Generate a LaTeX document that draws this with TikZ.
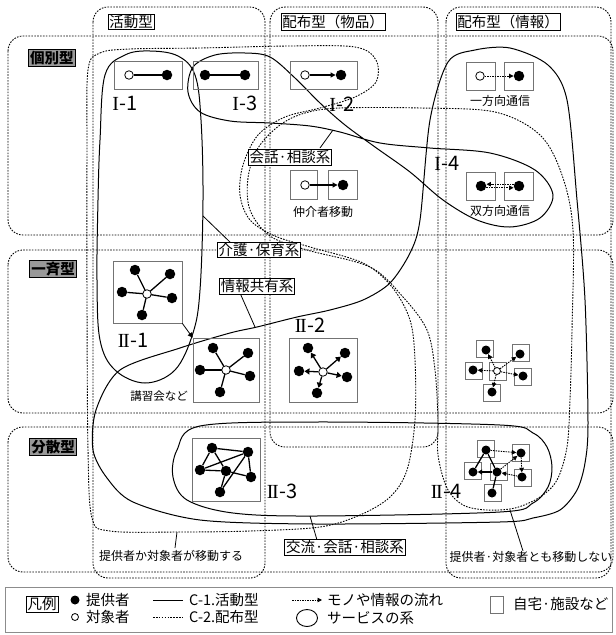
\documentclass[tikz,border=0pt]{standalone}
\usepackage{fontspec}
\setmainfont{Noto Sans CJK JP}
\newfontfamily\serifrn{Liberation Serif}
\newcommand{\rnI}{{\serifrn I}\kern0.5pt}
\newcommand{\rnII}{{\serifrn I\kern-1.4pt I}\kern0.5pt}
\usetikzlibrary{arrows.meta,shapes.geometric}
\tikzset{
  dotl/.style={line width=0.9pt, dash pattern=on 1.6pt off 1.3pt},
  frame/.style={dotl, rounded corners=15pt},
  sys/.style={line width=1pt},
  house/.style={draw=black!55, line width=0.5pt, inner sep=0pt},
  sq/.style={house, minimum width=17pt, minimum height=17pt},
  prov/.style={circle, fill=black, inner sep=0pt, minimum size=10.5pt},
  provs/.style={circle, fill=black, inner sep=0pt, minimum size=9pt},
  tgt/.style={circle, draw, fill=white, line width=0.8pt, inner sep=0pt, minimum size=8.5pt},
  tgts/.style={circle, draw, fill=white, line width=0.8pt, inner sep=0pt, minimum size=7pt},
  tag/.style={draw, line width=0.9pt, fill=white, inner sep=1.2pt, font=\fontsize{14.5}{15}\selectfont},
  rowtag/.style={draw, line width=0.6pt, fill=black!40, inner sep=1.5pt, font=\fontsize{14.5}{15}\selectfont\bfseries},
  roman/.style={font=\fontsize{20}{20}\selectfont, inner sep=0pt},
  small/.style={font=\fontsize{12}{12}\selectfont, inner sep=0pt},
  leg/.style={font=\fontsize{14.5}{15}\selectfont, inner sep=0pt, anchor=west},
  tip/.style={-{Triangle[length=5pt,width=5pt]}},
  edge/.style={line width=1.3pt},
  dotarrow/.style={line width=0.9pt, dash pattern=on 1.5pt off 1pt, -{Triangle[length=4.5pt,width=4.5pt]}},
}
\begin{document}
\begin{tikzpicture}[x=1pt,y=-1pt]
\useasboundingbox (0,0) rectangle (616,635);
% rows
\draw[frame] (8,36) rectangle (613,235);
\draw[frame] (8,250) rectangle (613,413);
\draw[frame] (8,427) rectangle (613,572);
% columns
\draw[frame] (93,7) rectangle (265,578);
\draw[frame] (270,7) rectangle (438,447);
\draw[frame] (446,7) rectangle (611,578);

% dotted service systems
\draw[dotl] plot[smooth cycle, tension=0.55] coordinates {
 (88,70) (100,53) (130,49) (200,48) (290,46) (355,47) (376,60) (376,82) (355,97)
 (320,108) (285,117) (258,135) (243,165) (240,195) (250,220) (275,236) (310,247)
 (363,263) (392,287) (410,320) (415,360) (415,420) (407,470) (390,497) (360,515)
 (320,527) (250,531) (180,532) (110,531) (92,518) (88,450) (87,300) (87,150)};
\draw[dotl] plot[smooth cycle, tension=0.55] coordinates {
 (340,108) (420,108) (495,112) (540,135) (562,175) (573,230) (572,330) (570,400)
 (567,447) (557,480) (540,497) (515,508) (487,510) (463,505) (447,488) (438,455)
 (438,420) (435,370) (427,330) (403,297) (370,267) (307,250) (270,236) (250,210)
 (248,178) (258,148) (280,125) (305,113)};

% solid service systems
\draw[sys] plot[smooth cycle, tension=0.6] coordinates {
 (100,140) (105,75) (125,55) (150,51) (178,56) (195,75) (201,120) (203,200)
 (200,290) (193,333) (175,370) (145,383) (115,370) (100,340) (97,280) (98,200)};
\draw[sys] plot[smooth cycle, tension=0.55] coordinates {
 (188,92) (193,67) (215,55) (245,53) (270,57) (295,78) (320,103) (345,125)
 (375,147) (410,172) (443,200) (477,220) (510,227) (540,218) (553,195) (535,170)
 (490,153) (430,148) (380,143) (340,132) (310,126) (270,123) (230,121) (200,112)};
\draw[sys] plot[smooth cycle, tension=0.5] coordinates {
 (420,220) (430,120) (448,62) (475,50) (510,48) (548,65) (567,100) (577,200)
 (585,300) (588,423) (585,463) (577,490) (560,510) (533,518) (500,522) (316,524)
 (200,520) (133,502) (107,478) (93,450) (96,410) (120,370) (180,348) (230,333)
 (257,327) (297,317) (330,310) (363,300) (390,283) (410,253)};
\draw[sys] plot[smooth cycle, tension=0.55] coordinates {
 (316,422) (500,425) (533,433) (547,447) (552,467) (548,487) (533,503) (500,512)
 (316,516) (233,513) (187,500) (173,477) (177,450) (200,426)};

% ---- 個別型 ----
\node[house, minimum width=68pt, minimum height=28pt] (h11) at (148,75) {};
\node[tgt] (a11) at (129,75) {};
\node[prov] (b11) at (167,75) {};
\draw[line width=1.1pt] (a11) -- (b11);
\node[roman] (l11) at (125,103) {\rnI-1};

\node[house, minimum width=65pt, minimum height=28pt] (h13) at (225.5,75) {};
\node[prov] (a13) at (205,75) {};
\node[prov] (b13) at (245,75) {};
\draw[line width=1.1pt] (a13) -- (b13);
\node[roman] (l13) at (245,103) {\rnI-3};

\node[house, minimum width=67pt, minimum height=28pt] (h12) at (323.5,75) {};
\node[tgt] (a12) at (305,75) {};
\node[prov] (b12) at (341,75) {};
\draw[line width=1.1pt, tip] (a12) -- (b12);
\node[roman] (l12) at (342,104) {\rnI-2};

\node[house, minimum width=29pt, minimum height=28pt] (h1a) at (480.5,76) {};
\node[house, minimum width=29pt, minimum height=28pt] (h1b) at (518.5,76) {};
\node[tgt] (a1w) at (480,76) {};
\node[prov] (b1w) at (519,76) {};
\draw[dotarrow] (a1w) -- (b1w);
\node[small] (t1w) at (500,101) {一方向通信};

\node[house, minimum width=29pt, minimum height=28pt] (h2a) at (480.5,186) {};
\node[house, minimum width=29pt, minimum height=28pt] (h2b) at (518.5,186) {};
\node[prov] (a2w) at (481,186) {};
\node[prov] (b2w) at (519,186) {};
\draw[dotarrow] ([yshift=-1.8pt]a2w.east) -- ([yshift=-1.8pt]b2w.west);
\draw[dotarrow] ([yshift=1.8pt]b2w.west) -- ([yshift=1.8pt]a2w.east);
\node[small] (t2w) at (500,211) {双方向通信};
\node[roman] (l14) at (447,163) {\rnI-4};

\node[house, minimum width=27pt, minimum height=29pt] (hma) at (303.5,184.5) {};
\node[house, minimum width=29pt, minimum height=29pt] (hmb) at (342.5,184.5) {};
\node[tgt] (ama) at (305,185) {};
\node[prov] (bma) at (343,185) {};
\draw[line width=1.1pt, tip] (ama) -- (bma);
\node[small] (tma) at (323,212) {仲介者移動};

% ---- 一斉型 ----
\node[house, minimum width=69pt, minimum height=62pt] (h21) at (147.5,292) {};
\node[prov] (s211) at (135,270) {};
\node[prov] (s212) at (170,274) {};
\node[prov] (s213) at (122,292) {};
\node[prov] (s214) at (172,298) {};
\node[prov] (s215) at (142,315) {};
\coordinate (c21) at (147,294);
\foreach \i in {1,...,5} { \draw[edge] (c21) -- (s21\i); }
\node[tgt] (c21n) at (147,294) {};
\node[roman] (l21) at (133,340) {\rnII-1};

\node[house, minimum width=66pt, minimum height=64pt] (hks) at (226,370) {};
\node[prov] (sks1) at (213,348) {};
\node[prov] (sks2) at (248,353) {};
\node[prov] (sks3) at (200,370) {};
\node[prov] (sks4) at (250,376) {};
\node[prov] (sks5) at (220,392) {};
\coordinate (cksc) at (226,370);
\foreach \i in {1,...,5} { \draw[edge] (cksc) -- (sks\i); }
\node[tgt] (cks) at (226,370) {};
\draw[line width=0.8pt, tip] (h21.south east) -- (hks.north west);
\node[small, font=\fontsize{11.5}{12}\selectfont] (tks) at (159,396) {講習会など};

\node[house, minimum width=68pt, minimum height=64pt] (h22) at (323,370) {};
\node[tgt] (c22) at (323,372) {};
\node[prov] (s221) at (308,348) {};
\node[prov] (s222) at (345,353) {};
\node[prov] (s223) at (299,371) {};
\node[prov] (s224) at (347,377) {};
\node[prov] (s225) at (317,393) {};
\foreach \i in {1,...,5} { \draw[edge, -{Triangle[length=5pt,width=6pt]}] (c22) -- (s22\i); }
\node[roman] (l22) at (310,325) {\rnII-2};

\node[house, minimum width=17pt, minimum height=18pt] (hic) at (497.5,371) {};
\node[sq] (hi1) at (484.5,348.5) {};
\node[sq] (hi2) at (520.5,353) {};
\node[sq] (hi3) at (474,370.5) {};
\node[sq] (hi4) at (522.5,377) {};
\node[sq] (hi5) at (492,392.5) {};
\node[provs] (si1) at (486,350) {};
\node[provs] (si2) at (520,354) {};
\node[provs] (si3) at (473,370) {};
\node[provs] (si4) at (523,376) {};
\node[provs] (si5) at (492,392) {};
\node[tgts] (ci) at (497,371) {};
\foreach \i in {1,...,5} { \draw[dotarrow] (ci) -- (si\i); }

% ---- 分散型 ----
\node[house, minimum width=68pt, minimum height=63pt] (h23) at (226,469.5) {};
\node[prov] (n1) at (212,448) {};
\node[prov] (n2) at (248,452) {};
\node[prov] (n3) at (200,470) {};
\node[prov] (n4) at (226,471) {};
\node[prov] (n5) at (251,477) {};
\node[prov] (n6) at (220,492) {};
\draw[edge] (n1) -- (n2);
\draw[edge] (n1) -- (n3);
\draw[edge] (n1) -- (n4);
\draw[edge] (n3) -- (n2);
\draw[edge] (n3) -- (n4);
\draw[edge] (n4) -- (n5);
\draw[edge] (n2) -- (n5);
\draw[edge] (n2) -- (n6);
\draw[edge] (n4) -- (n6);
\node[roman] (l23) at (282,491) {\rnII-3};

\node[sq] (hqa) at (485.5,448.5) {};
\node[sq] (hqb) at (521,453) {};
\node[sq] (hqc) at (473,471) {};
\node[sq] (hqd) at (498.5,472) {};
\node[sq] (hqe) at (522.5,477.5) {};
\node[sq] (hqf) at (493,492.5) {};
\node[provs] (qa) at (486,450) {};
\node[provs] (qb) at (521,453) {};
\node[provs] (qc) at (473,472) {};
\node[provs] (qd) at (497,472) {};
\node[provs] (qe) at (522,477) {};
\node[provs] (qf) at (492,493) {};
\draw[edge] (qa) -- (qc);
\draw[edge] (qa) -- (qd);
\draw[edge, -{Triangle[length=4.5pt,width=5pt]}] (qd) -- (qc);
\draw[edge] (qd) -- (qf);
\draw[dotarrow] (qa) -- (qb);
\draw[dotarrow] (qb) -- (qe);
\draw[dotarrow] (qd) -- (qb);
\draw[dotarrow] (qe) -- (qd);
\node[roman] (l24) at (446,491) {\rnII-4};

% ---- tags & leaders ----
\draw[line width=0.8pt] (320,148) -- (333,130);
\node[tag] (kaiwa) at (290,157.5) {会話·相談系};
\draw[line width=0.8pt] (232,244) -- (203,216);
\node[tag] (kaigo) at (259,250) {介護·保育系};
\draw[line width=0.8pt] (240,293) -- (255,327);
\node[tag] (joho) at (257,286.5) {情報共有系};
\draw[line width=0.8pt] (317,540) -- (310,516);
\node[tag] (koryu) at (345,547.5) {交流·会話·相談系};
\draw[line width=0.8pt] (175,548) -- (177,532);
\node[small] (tmove) at (171,556) {提供者か対象者が移動する};
\draw[line width=0.8pt] (523,551) -- (510,510);
\node[small] (tnomove) at (531,557) {提供者·対象者とも移動しない};

% ---- labels ----
\node[tag] (c1) at (131,22) {活動型};
\node[tag] (c2) at (333,22) {配布型（物品）};
\node[tag] (c3) at (508,22) {配布型（情報）};
\node[rowtag] (r1) at (52,58) {個別型};
\node[rowtag] (r2) at (53,269) {一斉型};
\node[rowtag] (r3) at (53,447) {分散型};

% ---- legend ----
\draw[draw=black!45, line width=0.6pt] (5,587) rectangle (612,632);
\node[draw, line width=0.6pt, inner sep=1.5pt, font=\fontsize{14.5}{15}\selectfont] (lg) at (42,604) {凡例};
\node[provs] (lgp) at (75,600) {};
\node[leg] (lgpt) at (86,600) {提供者};
\node[tgts] (lgt) at (75,617) {};
\node[leg] (lgtt) at (86,617) {対象者};
\coordinate (lc1a) at (153,600); \coordinate (lc1b) at (183,600);
\draw[sys] (lc1a) -- (lc1b);
\node[leg] (lc1t) at (189,600) {C-1.活動型};
\coordinate (lc2a) at (153,617); \coordinate (lc2b) at (183,617);
\draw[dotl] (lc2a) -- (lc2b);
\node[leg] (lc2t) at (189,617) {C-2.配布型};
\coordinate (lfa) at (292,600); \coordinate (lfb) at (322,600);
\draw[dotarrow] (lfa) -- (lfb);
\node[leg] (lft) at (327,600) {モノや情報の流れ};
\node[draw, line width=0.9pt, ellipse, minimum width=21pt, minimum height=17pt, inner sep=0pt] (lse) at (307,618) {};
\node[leg] (lst) at (327,618) {サービスの系};
\node[draw=black!55, line width=0.6pt, minimum width=13pt, minimum height=17pt, inner sep=0pt] (lh) at (496.5,604.5) {};
\node[leg] (lht) at (513,604) {自宅·施設など};
\end{tikzpicture}
\end{document}
